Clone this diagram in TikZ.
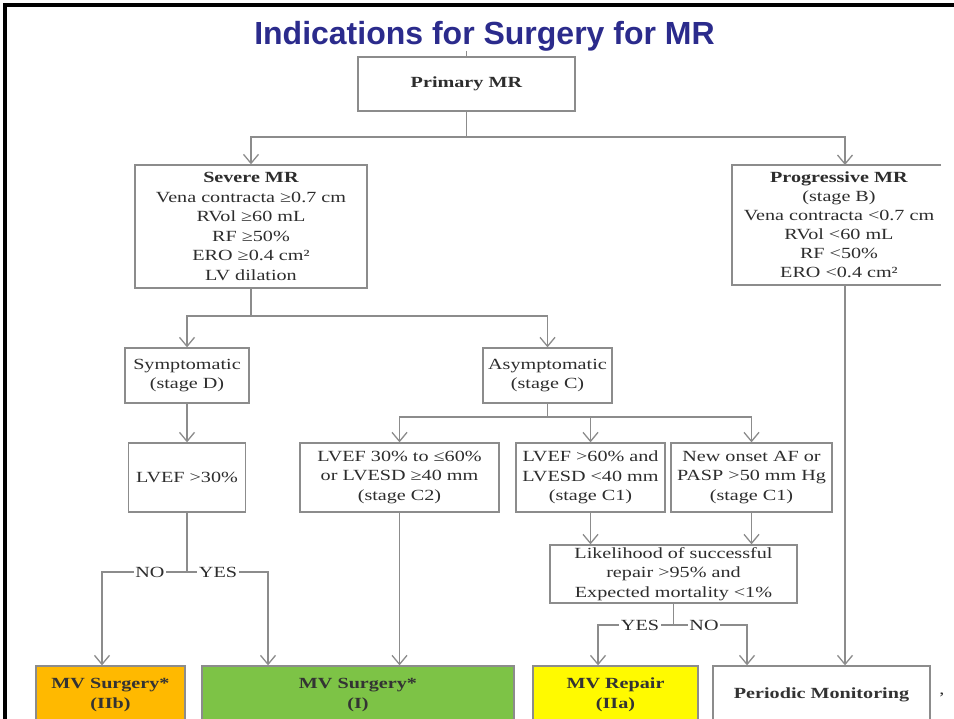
\documentclass[tikz,border=0pt]{standalone}
\usepackage{fontspec}
\usetikzlibrary{arrows.meta}
\newfontfamily\boxfont{Liberation Serif}[FakeStretch=1.3]
\newfontfamily\titlefont{Liberation Sans}
\definecolor{titleblue}{RGB}{43,43,140}
\definecolor{edgegray}{RGB}{140,140,140}
\definecolor{txtgray}{RGB}{45,45,45}
\definecolor{orangefill}{RGB}{255,185,0}
\definecolor{greenfill}{RGB}{125,195,70}
\definecolor{yellowfill}{RGB}{255,250,0}
\begin{document}
\begin{tikzpicture}[x=1pt,y=-1pt,
  box/.style={draw=edgegray, line width=1.3pt, fill=white, align=center, inner sep=0pt, text=txtgray, font=\boxfont\fontsize{15.5}{19.5}\selectfont},
  conn/.style={draw=edgegray, line width=1.3pt},
  arr/.style={conn, -{Straight Barb[length=9pt,width=15pt]}},
  lbl/.style={fill=white, inner sep=1.5pt, text=txtgray, font=\boxfont\fontsize{15.5}{19.5}\selectfont},
  result/.style={box, text=black!80, font=\boxfont\bfseries\fontsize{15.5}{19.5}\selectfont, minimum height=58pt}
]
\clip (0,0) rectangle (954,719);
\fill[white] (0,0) rectangle (954,719);
\draw[line width=4pt] (5,719) -- (5,5) -- (954,5);

\node[anchor=base, text=titleblue, font=\titlefont\bfseries\fontsize{32}{38}\selectfont] (title) at (484.5,45) {Indications for Surgery for MR};

\node[box, minimum width=217pt, minimum height=54pt] (primary) at (466.5,84) {\textbf{Primary MR}};
\node[box, minimum width=232pt, minimum height=123pt] (severe) at (251,226.5)
  {\textbf{Severe MR}\\Vena contracta ≥0.7 cm\\RVol ≥60 mL\\RF ≥50\%\\ERO ≥0.4 cm²\\LV dilation};
\node[align=center, inner sep=0pt, text=txtgray, font=\boxfont\fontsize{15.5}{19}\selectfont] (prog) at (839,225)
  {\textbf{Progressive MR}\\(stage B)\\Vena contracta <0.7 cm\\RVol <60 mL\\RF <50\%\\ERO <0.4 cm²};
\draw[conn] (941,165) -- (732,165) -- (732,285) -- (941,285);
\coordinate (progtop) at (845,165);
\coordinate (progbot) at (845,285);

\node[box, minimum width=124pt, minimum height=55pt] (symp) at (187,375.5) {Symptomatic\\(stage D)};
\node[box, minimum width=129pt, minimum height=55pt] (asym) at (547.5,375.5) {Asymptomatic\\(stage C)};

\node[box, minimum width=117pt, minimum height=69pt] (lvef) at (187,477.5) {LVEF >30\%};
\node[box, minimum width=199pt, minimum height=69pt] (c2) at (399.5,477.5) {LVEF 30\% to ≤60\%\\or LVESD ≥40 mm\\(stage C2)};
\node[box, minimum width=149pt, minimum height=69pt] (c1a) at (590.5,477.5) {LVEF >60\% and\\LVESD <40 mm\\(stage C1)};
\node[box, minimum width=161pt, minimum height=69pt] (c1b) at (751.5,477.5) {New onset AF or\\PASP >50 mm Hg\\(stage C1)};

\node[box, minimum width=247pt, minimum height=58pt] (likely) at (673.5,574) {Likelihood of successful\\repair >95\% and\\Expected mortality <1\%};

\node[result, minimum width=149pt, fill=orangefill] (orange) at (110.5,695) {MV Surgery*\\(IIb)};
\node[result, minimum width=312pt, fill=greenfill] (green) at (358,695) {MV Surgery*\\(I)};
\node[result, minimum width=165pt, fill=yellowfill] (repair) at (615.5,695) {MV Repair\\(IIa)};
\node[result, minimum width=217pt, fill=white] (periodic) at (821.5,695) {Periodic Monitoring};
\node[text=txtgray, font=\boxfont\fontsize{15.5}{19.5}\selectfont] (mark) at (942,695) {,};

% connectors
\coordinate (stub) at (466.5,51);
\draw[conn] (stub) -- (primary.north);
\coordinate (j1) at (466.5,137);
\draw[arr] (primary.south) -- (j1) -| (severe.north);
\draw[arr] (j1) -| (progtop);

\coordinate (j2) at (251,316);
\draw[arr] (severe.south) -- (j2) -| (symp.north);
\draw[arr] (j2) -| (asym.north);
\draw[arr] (symp.south) -- (lvef.north);

\coordinate (j3) at (547.5,417);
\draw[arr] (asym.south) -- (j3) -| (c2.north);
\draw[arr] (j3) -| (c1a.north);
\draw[arr] (j3) -| (c1b.north);
\draw[arr] (c1a.south) -- (c1a.south |- likely.north);
\draw[arr] (c1b.south) -- (c1b.south |- likely.north);

\coordinate (j4) at (673.5,625);
\coordinate (yesR) at (598,625);
\coordinate (noR) at (747,625);
\draw[conn] (likely.south) -- (j4);
\draw[arr] (j4) -- (yesR) -- (yesR |- repair.north);
\draw[arr] (j4) -- (noR) -- (noR |- periodic.north);
\node[lbl] (yes2) at (640,625) {YES};
\node[lbl] (no2) at (704,625) {NO};

\draw[arr] (progbot) -- (progbot |- periodic.north);

\coordinate (j5) at (187,572);
\coordinate (noL) at (102,572);
\coordinate (yesL) at (268,572);
\draw[conn] (lvef.south) -- (j5);
\draw[arr] (j5) -- (noL) -- (noL |- orange.north);
\draw[arr] (j5) -- (yesL) -- (yesL |- green.north);
\node[lbl] (no1) at (150,572) {NO};
\node[lbl] (yes1) at (218,572) {YES};
\draw[arr] (c2.south) -- (c2.south |- green.north);
\end{tikzpicture}
\end{document}
